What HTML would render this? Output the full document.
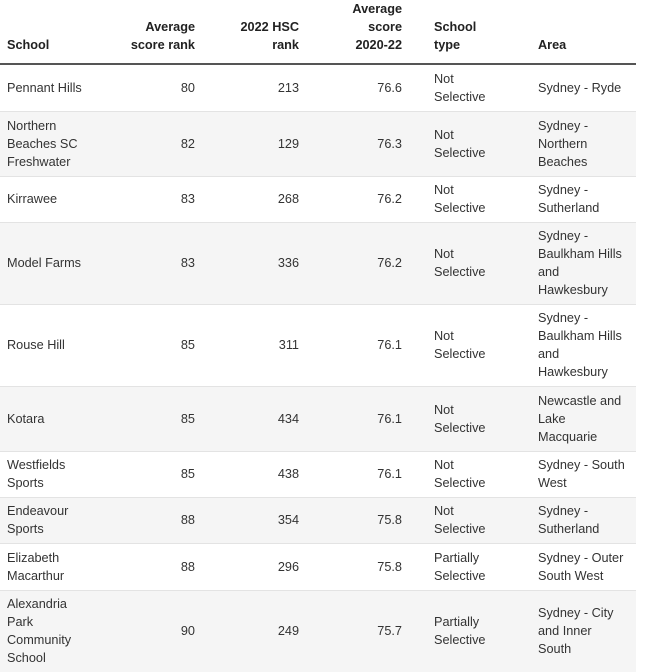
<!DOCTYPE html>
<html><head><meta charset="utf-8"><style>
html,body{margin:0;padding:0;background:#fff;width:650px;height:671px;overflow:hidden}
table{border-collapse:collapse;table-layout:fixed;width:636px;font-family:"Liberation Sans",sans-serif;font-size:12.7px;line-height:18px;color:#333;position:absolute;left:0;top:0}
td,th{padding:0;white-space:nowrap;vertical-align:middle}
th{vertical-align:bottom;padding-bottom:9px;color:#222;font-weight:bold;text-align:left;height:53px;border-bottom:2px solid #555}
tr.b td{border-bottom:1px solid #e3e3e3}
tr.g td{background:#f5f5f5}
.c1{padding-left:7px}
.r{text-align:right;padding-right:7px}
.c5{padding-left:25px}
.c6{padding-left:7px}
</style></head><body>
<table>
<colgroup><col style="width:115px"><col style="width:87px"><col style="width:104px"><col style="width:103px"><col style="width:122px"><col style="width:105px"></colgroup>
<tr><th class="c1">School</th><th class="r">Average<br>score rank</th><th class="r">2022 HSC<br>rank</th><th class="r">Average<br>score<br>2020-22</th><th class="c5">School<br>type</th><th class="c6">Area</th></tr>
<tr class="b" style="height:47px"><td class="c1">Pennant Hills</td><td class="r">80</td><td class="r">213</td><td class="r">76.6</td><td class="c5">Not<br>Selective</td><td class="c6">Sydney - Ryde</td></tr>
<tr class="b g" style="height:65px"><td class="c1">Northern<br>Beaches SC<br>Freshwater</td><td class="r">82</td><td class="r">129</td><td class="r">76.3</td><td class="c5">Not<br>Selective</td><td class="c6">Sydney -<br>Northern<br>Beaches</td></tr>
<tr class="b" style="height:46px"><td class="c1">Kirrawee</td><td class="r">83</td><td class="r">268</td><td class="r">76.2</td><td class="c5">Not<br>Selective</td><td class="c6">Sydney -<br>Sutherland</td></tr>
<tr class="b g" style="height:82px"><td class="c1">Model Farms</td><td class="r">83</td><td class="r">336</td><td class="r">76.2</td><td class="c5">Not<br>Selective</td><td class="c6">Sydney -<br>Baulkham Hills<br>and<br>Hawkesbury</td></tr>
<tr class="b" style="height:82px"><td class="c1">Rouse Hill</td><td class="r">85</td><td class="r">311</td><td class="r">76.1</td><td class="c5">Not<br>Selective</td><td class="c6">Sydney -<br>Baulkham Hills<br>and<br>Hawkesbury</td></tr>
<tr class="b g" style="height:65px"><td class="c1">Kotara</td><td class="r">85</td><td class="r">434</td><td class="r">76.1</td><td class="c5">Not<br>Selective</td><td class="c6">Newcastle and<br>Lake<br>Macquarie</td></tr>
<tr class="b" style="height:46px"><td class="c1">Westfields<br>Sports</td><td class="r">85</td><td class="r">438</td><td class="r">76.1</td><td class="c5">Not<br>Selective</td><td class="c6">Sydney - South<br>West</td></tr>
<tr class="b g" style="height:46px"><td class="c1">Endeavour<br>Sports</td><td class="r">88</td><td class="r">354</td><td class="r">75.8</td><td class="c5">Not<br>Selective</td><td class="c6">Sydney -<br>Sutherland</td></tr>
<tr class="b" style="height:47px"><td class="c1">Elizabeth<br>Macarthur</td><td class="r">88</td><td class="r">296</td><td class="r">75.8</td><td class="c5">Partially<br>Selective</td><td class="c6">Sydney - Outer<br>South West</td></tr>
<tr class="g" style="height:82px"><td class="c1">Alexandria<br>Park<br>Community<br>School</td><td class="r">90</td><td class="r">249</td><td class="r">75.7</td><td class="c5">Partially<br>Selective</td><td class="c6">Sydney - City<br>and Inner<br>South</td></tr>
</table>
</body></html>
